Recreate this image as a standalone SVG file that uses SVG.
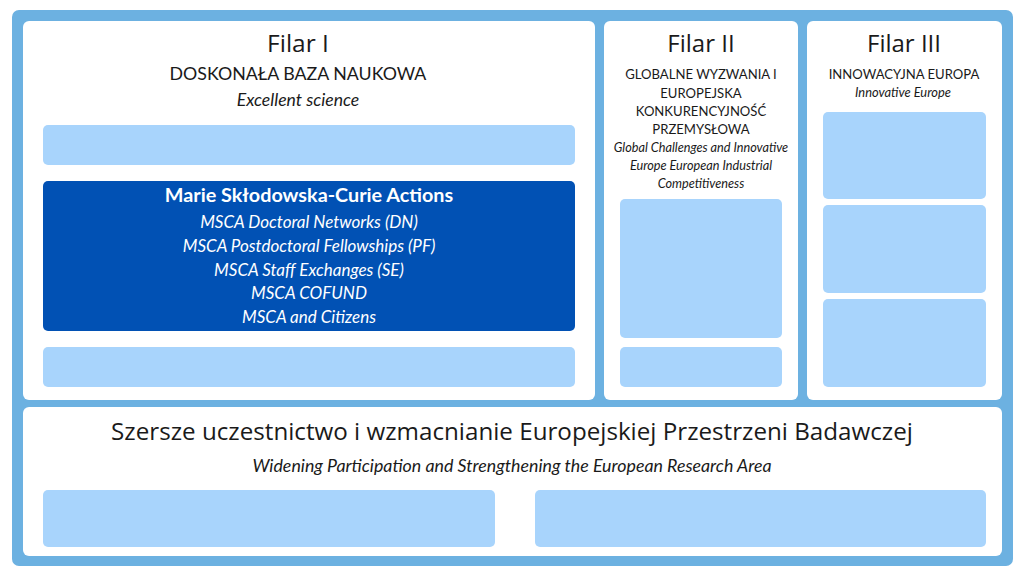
<svg xmlns="http://www.w3.org/2000/svg" width="1024" height="576" viewBox="0 0 1024 576">
<style>
.panel{fill:#ffffff}
.slot{fill:#a8d4fc}
.t{font-family:"Lato","Liberation Sans",sans-serif;fill:#1a1a1a;text-anchor:middle}
.h{font-family:"Open Sans","Liberation Sans",sans-serif;fill:#1a1a1a;text-anchor:middle}
.i{font-style:italic}
.w{fill:#ffffff}
</style>
<rect x="0" y="0" width="1024" height="576" fill="#ffffff"/>
<rect id="frame" x="12" y="10" width="1001" height="556" rx="7" fill="#6cb1e1"/>

<g id="filar1">
<rect class="panel" x="23" y="21" width="572" height="379" rx="6"/>
<text class="h" x="298" y="52" font-size="24.5">Filar I</text>
<text class="t" x="298" y="80" font-size="17.8">DOSKONAŁA BAZA NAUKOWA</text>
<text class="t i" x="298" y="106" font-size="17.6">Excellent science</text>
<rect class="slot" x="43" y="125" width="532" height="40" rx="5"/>
<g id="msca">
<rect x="43" y="181" width="532" height="150" rx="5" fill="#0151b4"/>
<text class="t w" x="309" y="202" font-size="19.8" font-weight="bold">Marie Skłodowska-Curie Actions</text>
<text class="t w i" x="309" y="228" font-size="17">MSCA Doctoral Networks (DN)</text>
<text class="t w i" x="309" y="252" font-size="17">MSCA Postdoctoral Fellowships (PF)</text>
<text class="t w i" x="309" y="276" font-size="17">MSCA Staff Exchanges (SE)</text>
<text class="t w i" x="309" y="299" font-size="17">MSCA COFUND</text>
<text class="t w i" x="309" y="323" font-size="17">MSCA and Citizens</text>
</g>
<rect class="slot" x="43" y="347" width="532" height="40" rx="5"/>
</g>

<g id="filar2">
<rect class="panel" x="604" y="21" width="194" height="379" rx="6"/>
<text class="h" x="701" y="52" font-size="24">Filar II</text>
<text class="t" x="701" y="79" font-size="13.1">GLOBALNE WYZWANIA I</text>
<text class="t" x="701" y="97.5" font-size="13.1">EUROPEJSKA</text>
<text class="t" x="701" y="116" font-size="13.1">KONKURENCYJNOŚĆ</text>
<text class="t" x="701" y="134" font-size="13.1">PRZEMYSŁOWA</text>
<text class="t i" x="701" y="151.5" font-size="12.7">Global Challenges and Innovative</text>
<text class="t i" x="701" y="169.5" font-size="12.7">Europe European Industrial</text>
<text class="t i" x="701" y="187.5" font-size="12.7">Competitiveness</text>
<rect class="slot" x="620" y="199" width="162" height="139" rx="5"/>
<rect class="slot" x="620" y="347" width="162" height="40" rx="5"/>
</g>

<g id="filar3">
<rect class="panel" x="807" y="21" width="195" height="379" rx="6"/>
<text class="h" x="904" y="52" font-size="24">Filar III</text>
<text class="t" x="904" y="79" font-size="13.1">INNOWACYJNA EUROPA</text>
<text class="t i" x="903" y="97" font-size="12.9">Innovative Europe</text>
<rect class="slot" x="823" y="112" width="163" height="87" rx="5"/>
<rect class="slot" x="823" y="205" width="163" height="88" rx="5"/>
<rect class="slot" x="823" y="299" width="163" height="88" rx="5"/>
</g>

<g id="widening">
<rect class="panel" x="23" y="407" width="979" height="149" rx="6"/>
<text class="h" x="512" y="440" font-size="24.2">Szersze uczestnictwo i wzmacnianie Europejskiej Przestrzeni Badawczej</text>
<text class="t i" x="512" y="472" font-size="17.8">Widening Participation and Strengthening the European Research Area</text>
<rect class="slot" x="43" y="490" width="452" height="57" rx="5"/>
<rect class="slot" x="535" y="490" width="451" height="57" rx="5"/>
</g>

<g id="connectors"/>
</svg>
